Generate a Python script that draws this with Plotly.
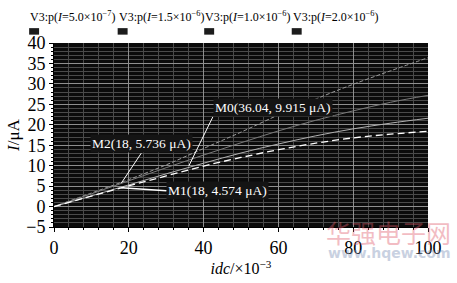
import plotly.graph_objects as go

# ---- data ----
idc = [0, 10, 20, 30, 40, 50, 60, 70, 80, 90, 100]
series_names = ["V3:p(<i>I</i>=5.0×10<sup>−7</sup>)", "V3:p(<i>I</i>=1.5×10<sup>−6</sup>)",
                "V3:p(<i>I</i>=1.0×10<sup>−6</sup>)", "V3:p(<i>I</i>=2.0×10<sup>−6</sup>)"]
curve_a = [0, 3.3, 6.6, 10.2, 14.2, 18.2, 22.4, 26.3, 29.9, 33.2, 36.4]
curve_b = [0, 3.1, 6.3, 9.5, 12.6, 15.6, 18.5, 21.1, 23.4, 25.5, 27.2]
curve_c = [0, 2.6, 5.3, 8.0, 10.6, 13.1, 15.3, 17.3, 19.0, 20.4, 21.6]
curve_d = [0, 2.55, 5.05, 7.5, 9.9, 12.0, 13.9, 15.5, 16.8, 17.7, 18.4]
markers = [("M2", 18, 5.736), ("M1", 18, 4.574), ("M0", 36.04, 9.915)]
x_ticks = [0, 20, 40, 60, 80, 100]
y_ticks = [-5, 0, 5, 10, 15, 20, 25, 30, 35, 40]

W, H = 457, 283
L, R, T, B = 52, 29, 43, 42
PW, PH = W - L - R, H - T - B
def px(x):  # pixel -> paper x
    return (x - L) / PW
def py(y):
    return (H - B - y) / PH

SERIF = "Liberation Serif, Times New Roman, serif"

fig = go.Figure()
styles = [
    dict(color="#9a9a9a", width=1, dash="4px,2px"),
    dict(color="#7a7a7a", width=1),
    dict(color="#b0b0b0", width=1),
    dict(color="#ffffff", width=1.3, dash="7px,4px"),
]
for ys, st, nm in zip([curve_a, curve_b, curve_c, curve_d], styles, series_names):
    fig.add_trace(go.Scatter(x=idc, y=ys, mode="lines", line=dict(shape="spline", **st),
                             name=nm, showlegend=False))

lab_font = dict(color="white", size=13.5, family=SERIF)
# marker labels
fig.add_annotation(x=markers[0][1], y=markers[0][2], xref="x", yref="y",
                   text=f"{markers[0][0]}({markers[0][1]}, {markers[0][2]} μA)",
                   ax=20, ay=-30, showarrow=True, arrowhead=0, arrowwidth=1,
                   arrowcolor="white", bgcolor="#141414", font=lab_font,
                   xanchor="center", yanchor="bottom")
fig.add_annotation(x=markers[1][1], y=markers[1][2], xref="x", yref="y",
                   text=f"{markers[1][0]}({markers[1][1]}, {markers[1][2]} μA)",
                   ax=45, ay=3, showarrow=True, arrowhead=0, arrowwidth=1.5,
                   arrowcolor="white", bgcolor="#141414", font=lab_font,
                   xanchor="left", yanchor="middle")
fig.add_annotation(x=markers[2][1], y=markers[2][2], xref="x", yref="y",
                   text=f"{markers[2][0]}({markers[2][1]}, {markers[2][2]} μA)",
                   ax=24, ay=-49, showarrow=True, arrowhead=0, arrowwidth=1,
                   arrowcolor="white", bgcolor="#141414", font=lab_font,
                   xanchor="left", yanchor="bottom")

# legend (text row with small swatches below)
leg_x = [27, 116, 203, 291]
for lx, nm in zip(leg_x, series_names):
    fig.add_annotation(x=px(lx), y=py(14), xref="paper", yref="paper", text=nm, showarrow=False,
                       xanchor="left", yanchor="middle", borderpad=0,
                       font=dict(size=12, color="black", family=SERIF))
    fig.add_shape(type="rect", xref="paper", yref="paper", x0=px(lx), x1=px(lx + 10),
                  y0=py(34), y1=py(27), fillcolor="#1c1c1c", line=dict(width=0))

# watermark
fig.add_annotation(x=px(453), y=py(246), xref="paper", yref="paper", text="华强电子网", showarrow=False,
                   xanchor="right", yanchor="middle", opacity=0.4,
                   font=dict(size=25, color="#e05a6a", family="Noto Sans CJK SC"))
fig.add_annotation(x=px(453), y=py(269), xref="paper", yref="paper", text="<b>www.hqew.com</b>",
                   showarrow=False, xanchor="right", yanchor="middle", opacity=0.4,
                   font=dict(size=14, color="#7a8fb5", family="DejaVu Sans"))

fig.update_layout(
    width=W, height=H, margin=dict(l=L, r=R, t=T, b=B),
    paper_bgcolor="white", plot_bgcolor="#0b0b0b",
    font=dict(family=SERIF, color="black"),
    showlegend=False,
    xaxis=dict(range=[0, 100], tickvals=x_ticks, showgrid=True, gridcolor="#8f8f8f", gridwidth=1,
               minor=dict(dtick=4, showgrid=True, gridcolor="#4a4a4a", ticks="outside", ticklen=2,
                          tickcolor="black"),
               ticks="outside", ticklen=4, tickcolor="black", zeroline=False,
               showline=True, linecolor="black", tickfont=dict(size=18, family=SERIF),
               title=dict(text="<i>idc</i>/×10<sup>−3</sup>", font=dict(size=16, family=SERIF), standoff=2)),
    yaxis=dict(range=[-5, 40], tickvals=y_ticks, showgrid=True, gridcolor="#8f8f8f", gridwidth=1,
               minor=dict(dtick=1, showgrid=True, gridcolor="#4a4a4a", ticks="outside", ticklen=2,
                          tickcolor="black"),
               ticks="outside", ticklen=4, tickcolor="black", zeroline=False,
               showline=True, linecolor="black", tickfont=dict(size=18, family=SERIF),
               title=dict(text="<i>I</i>/μA", font=dict(size=17, family=SERIF), standoff=2)),
)

fig.write_html("out.html")
